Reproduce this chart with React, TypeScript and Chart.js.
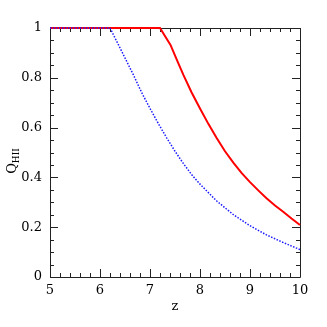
import React, { useEffect, useRef } from "react";
import { Chart, registerables } from "chart.js";

Chart.register(...registerables);

const zRed = [5, 7.2, 7.41, 7.55, 7.67, 7.83, 8.0, 8.17, 8.33, 8.5, 8.67, 8.83, 9.0, 9.17, 9.33, 9.5, 9.67, 9.83, 10];
const qRed = [1, 1, 0.932, 0.866, 0.811, 0.742, 0.677, 0.614, 0.559, 0.505, 0.458, 0.418, 0.381, 0.347, 0.316, 0.287, 0.261, 0.235, 0.209];
const zBlue = [5, 6.2, 6.4, 6.67, 6.83, 7.0, 7.17, 7.33, 7.5, 7.67, 7.83, 8.0, 8.33, 8.67, 9.0, 9.33, 9.67, 10];
const qBlue = [1, 1, 0.92, 0.811, 0.742, 0.677, 0.615, 0.56, 0.505, 0.455, 0.412, 0.373, 0.306, 0.25, 0.206, 0.169, 0.138, 0.11];
const xTicks = [5, 6, 7, 8, 9, 10];
const yTicks = [0, 0.2, 0.4, 0.6, 0.8, 1];
const xMinorStep = 0.2;
const yMinorStep = 0.05;

const FONT = "'DejaVu Serif', serif";

const framePlugin = {
  id: "frame",
  beforeDatasetsDraw(chart: any) {
    const { ctx, chartArea: a, scales } = chart;
    const xs = scales.x;
    const ys = scales.y;
    ctx.save();
    ctx.strokeStyle = "#222";
    ctx.lineWidth = 1;
    ctx.beginPath();
    ctx.rect(Math.round(a.left) + 0.5, Math.round(a.top) + 0.5, Math.round(a.right - a.left), Math.round(a.bottom - a.top));
    ctx.stroke();
    const major = 8;
    const minor = 4;
    ctx.beginPath();
    for (let v = 5; v <= 10.0001; v += xMinorStep) {
      const isMajor = Math.abs(v - Math.round(v)) < 1e-6;
      const len = isMajor ? major : minor;
      const px = Math.round(xs.getPixelForValue(v)) + 0.5;
      ctx.moveTo(px, a.bottom);
      ctx.lineTo(px, a.bottom - len);
      ctx.moveTo(px, a.top);
      ctx.lineTo(px, a.top + len);
    }
    for (let v = 0; v <= 1.0001; v += yMinorStep) {
      const isMajor = Math.abs(v / 0.2 - Math.round(v / 0.2)) < 1e-6;
      const len = isMajor ? major : minor;
      const py = Math.round(ys.getPixelForValue(v)) + 0.5;
      ctx.moveTo(a.left, py);
      ctx.lineTo(a.left + len, py);
      ctx.moveTo(a.right, py);
      ctx.lineTo(a.right - len, py);
    }
    ctx.stroke();

    // y title Q_HII
    ctx.fillStyle = "#000";
    ctx.translate(16, 161);
    ctx.rotate(-Math.PI / 2);
    ctx.textBaseline = "alphabetic";
    ctx.textAlign = "left";
    ctx.font = `13px ${FONT}`;
    const qw = ctx.measureText("Q").width;
    ctx.font = `9px ${FONT}`;
    const sw = ctx.measureText("HII").width;
    const start = -(qw + sw) / 2;
    ctx.font = `13px ${FONT}`;
    ctx.fillText("Q", start, 0);
    ctx.font = `9px ${FONT}`;
    ctx.fillText("HII", start + qw, 3);
    ctx.restore();
  },
};

export default function App() {
  const ref = useRef<HTMLCanvasElement | null>(null);
  useEffect(() => {
    if (!ref.current) return;
    const chart = new Chart(ref.current, {
      type: "scatter",
      data: {
        datasets: [
          {
            data: zBlue.map((z, i) => ({ x: z, y: qBlue[i] })),
            showLine: true,
            borderColor: "#1a1aff",
            borderWidth: 1.5,
            borderDash: [1.5, 1.5],
            pointRadius: 0,
            tension: 0,
            clip: false,
          },
          {
            data: zRed.map((z, i) => ({ x: z, y: qRed[i] })),
            showLine: true,
            borderColor: "#ff0000",
            borderWidth: 2,
            pointRadius: 0,
            tension: 0,
            clip: false,
          },
        ],
      },
      options: {
        animation: false,
        responsive: false,
        layout: { padding: { left: 0, right: 27, top: 28, bottom: 13 } },
        plugins: { legend: { display: false }, tooltip: { enabled: false } },
        scales: {
          x: {
            type: "linear",
            min: 5,
            max: 10,
            afterFit: (s: any) => { s.height = 37; },
            afterBuildTicks: (s: any) => { s.ticks = xTicks.map((v) => ({ value: v })); },
            grid: { display: false, drawTicks: false },
            border: { display: false },
            ticks: { color: "#000", font: { family: FONT, size: 13 }, padding: 6, maxRotation: 0, callback: (v: any) => String(v) },
            title: { display: true, text: "z", color: "#000", font: { family: FONT, size: 13 }, padding: { top: 0, bottom: 0 } },
          },
          y: {
            type: "linear",
            min: 0,
            max: 1,
            afterFit: (s: any) => { s.width = 50; },
            afterBuildTicks: (s: any) => { s.ticks = yTicks.map((v) => ({ value: v })); },
            grid: { display: false, drawTicks: false },
            border: { display: false },
            ticks: { color: "#000", font: { family: FONT, size: 13 }, padding: 8, callback: (v: any) => String(v) },
          },
        },
      },
      plugins: [framePlugin],
    });
    return () => chart.destroy();
  }, []);
  return (
    <div style={{ position: "absolute", left: 0, top: 0, width: 327, height: 327, background: "#fff" }}>
      <canvas ref={ref} width={327} height={327} />
    </div>
  );
}
